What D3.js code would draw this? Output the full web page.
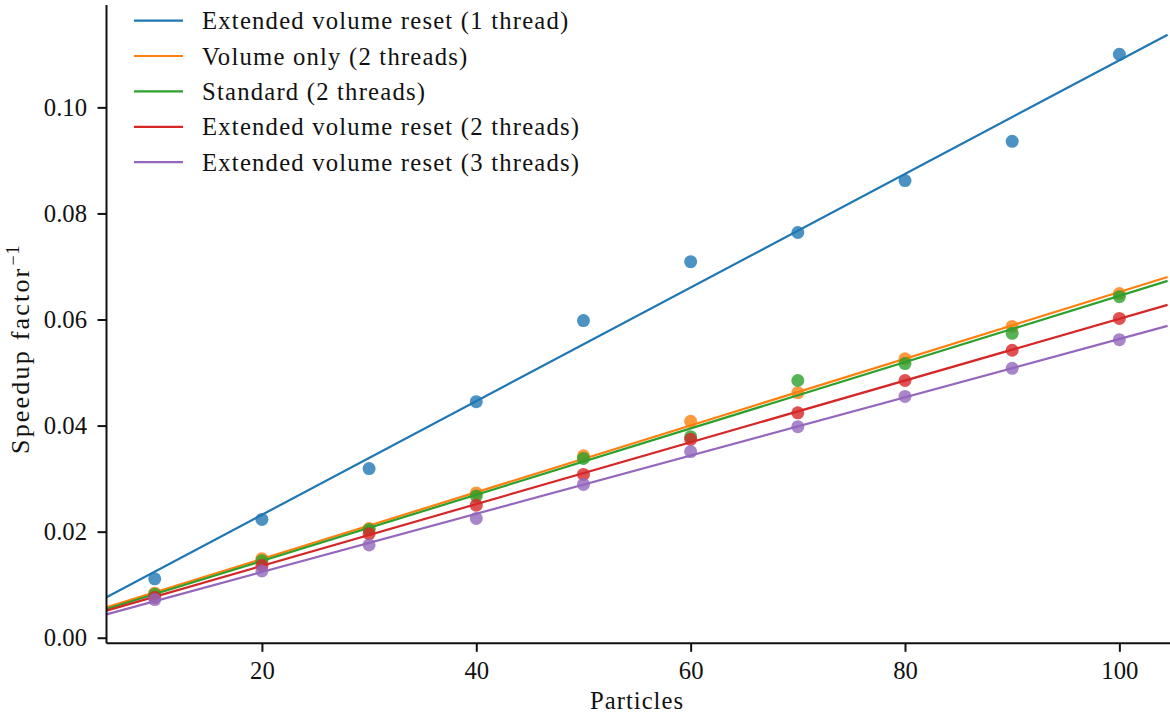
<!DOCTYPE html>
<html>
<head>
<meta charset="utf-8">
<script src="https://cdn.jsdelivr.net/npm/d3@7"></script>
<style>
  body { margin: 0; background: #fff; }
  svg text { font-family: "Liberation Serif", "DejaVu Serif", serif; fill: #111; }
</style>
</head>
<body>
<div id="chart"></div>
<script>
// particles on the x axis
var particles = [10, 20, 30, 40, 50, 60, 70, 80, 90, 100];

var seriesNames = [
  "Extended volume reset (1 thread)",
  "Volume only (2 threads)",
  "Standard (2 threads)",
  "Extended volume reset (2 threads)",
  "Extended volume reset (3 threads)"
];

// inverse speedup
var evr1 = [0.0111, 0.0223, 0.0319, 0.0445, 0.0598, 0.0709, 0.0764, 0.0862, 0.0936, 0.1100];
var volOnly2 = [0.0084, 0.0149, 0.0206, 0.0273, 0.0343, 0.0408, 0.0462, 0.0526, 0.0587, 0.0649];
var standard2 = [0.0082, 0.0145, 0.0204, 0.0267, 0.0338, 0.0379, 0.0485, 0.0517, 0.0574, 0.0643];
var evr2 = [0.0076, 0.0136, 0.0196, 0.0250, 0.0308, 0.0374, 0.0424, 0.0485, 0.0542, 0.0602];
var evr3 = [0.0072, 0.0126, 0.0175, 0.0225, 0.0289, 0.0351, 0.0398, 0.0455, 0.0508, 0.0562];

var allSeries = [evr1, volOnly2, standard2, evr2, evr3];
var colors = ["#1f77b4", "#ff7f0e", "#2ca02c", "#d62728", "#9467bd"];

var xTicks = [20, 40, 60, 80, 100];
var yTicks = [0, 0.02, 0.04, 0.06, 0.08, 0.10];

var width = 1170, height = 716;
var xMin = 5.5, xMax = 104.5;
var fs = 24.7;

var svg = d3.select("#chart").append("svg")
  .attr("width", width)
  .attr("height", height);

var x = d3.scaleLinear().domain([xMin, xMax]).range([106.5, 1167.6]);
var y = d3.scaleLinear().domain([-0.00105, 0.1193]).range([643.3, 5]);

// least squares fit like seaborn regplot
function fit(xv, yv) {
  var mx = d3.mean(xv), my = d3.mean(yv);
  var sxy = 0, sxx = 0;
  xv.forEach(function(v, i) {
    sxy += (v - mx) * (yv[i] - my);
    sxx += (v - mx) * (v - mx);
  });
  var b = sxy / sxx;
  return { slope: b, icpt: my - b * mx };
}

var plot = svg.append("g");

allSeries.forEach(function(vals, i) {
  var g = plot.append("g");
  g.selectAll("circle")
    .data(vals)
    .enter().append("circle")
    .attr("cx", function(d, j) { return x(particles[j]); })
    .attr("cy", function(d) { return y(d); })
    .attr("r", 6.5)
    .attr("fill", colors[i])
    .attr("fill-opacity", 0.8);

  var f = fit(particles, vals);
  var ends = [xMin, xMax];
  g.append("path")
    .datum(ends)
    .attr("fill", "none")
    .attr("stroke", colors[i])
    .attr("stroke-width", 2.2)
    .attr("d", d3.line()
      .x(function(d) { return x(d); })
      .y(function(d) { return y(f.icpt + f.slope * d); }));
});

// axes
var xAxis = d3.axisBottom(x).tickValues(xTicks).tickSize(8.5).tickPadding(10)
  .tickFormat(d3.format("d"));
var yAxis = d3.axisLeft(y).tickValues(yTicks).tickSize(9).tickPadding(10.5)
  .tickFormat(d3.format(".2f"));

var gx = svg.append("g")
  .attr("transform", "translate(0,643.3)")
  .call(xAxis);
var gy = svg.append("g")
  .attr("transform", "translate(106.5,0)")
  .call(yAxis);

[gx, gy].forEach(function(g) {
  g.select(".domain").attr("stroke", "#111").attr("stroke-width", 2);
  g.selectAll(".tick line").attr("stroke", "#111").attr("stroke-width", 2);
  g.selectAll(".tick text").attr("font-size", fs).attr("fill", "#111")
    .style("font-family", "'Liberation Serif', serif");
});
gx.select(".domain").attr("d", "M106.5,0H1170");
gy.select(".domain").attr("d", "M0,643.3V5");

svg.append("text")
  .attr("x", x((xMin + xMax) / 2))
  .attr("y", 709)
  .attr("text-anchor", "middle")
  .attr("font-size", fs)
  .attr("letter-spacing", 1)
  .text("Particles");

var yl = svg.append("text")
  .attr("transform", "translate(28.5,454) rotate(-90)")
  .attr("text-anchor", "start")
  .attr("font-size", 26)
  .attr("letter-spacing", 2.2);
yl.append("tspan").text("Speedup factor");
yl.append("tspan").attr("dy", -10).attr("dx", 1).attr("font-size", 18).attr("letter-spacing", 1).text("\u22121");

// legend
var legend = svg.selectAll(".legend")
  .data(seriesNames)
  .enter().append("g")
  .attr("class", "legend")
  .attr("transform", function(d, i) { return "translate(0," + (20.6 + i * 35.4) + ")"; });

legend.append("line")
  .attr("x1", 134).attr("x2", 183)
  .attr("stroke", function(d, i) { return colors[i]; })
  .attr("stroke-width", 2.2);

legend.append("text")
  .attr("x", 202)
  .attr("y", 8.5)
  .attr("font-size", fs)
  .attr("letter-spacing", 1.2)
  .text(function(d) { return d; });
</script>
</body>
</html>
